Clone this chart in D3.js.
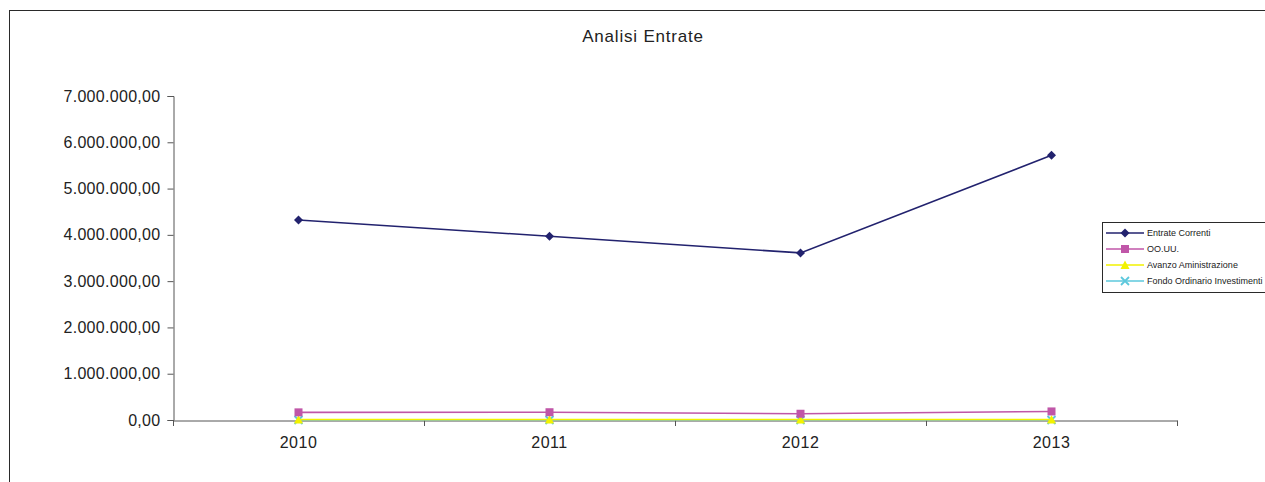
<!DOCTYPE html>
<html><head><meta charset="utf-8">
<script src="https://cdn.jsdelivr.net/npm/d3@7"></script>
<style>body{margin:0;background:#fff;} svg{display:block;font-family:"Liberation Sans",Arial,sans-serif;}</style>
</head><body>
<svg id="c" width="1265" height="482"></svg>
<script>
const years = ["2010","2011","2012","2013"];
const entrateCorrenti = [4320000, 3970000, 3610000, 5720000];
const oouu = [165000, 168000, 135000, 185000];
const avanzoAmministrazione = [12000, 12000, 12000, 12000];
const fondoOrdinarioInvestimenti = [0, 0, 0, 0];
const seriesNames = ["Entrate Correnti","OO.UU.","Avanzo Aministrazione","Fondo Ordinario Investimenti"];
const yTicks = [0,1000000,2000000,3000000,4000000,5000000,6000000,7000000];

const series = [
  {name: seriesNames[0], values: entrateCorrenti, color:"#22226e", marker:"diamond"},
  {name: seriesNames[1], values: oouu, color:"#c056a8", marker:"square"},
  {name: seriesNames[2], values: avanzoAmministrazione, color:"#f2f200", marker:"triangle"},
  {name: seriesNames[3], values: fondoOrdinarioInvestimenti, color:"#5cc8dc", marker:"x"}
];

const svg = d3.select("#c");
svg.append("rect").attr("x",9.5).attr("y",10.5).attr("width",1300).attr("height",500)
  .attr("fill","none").attr("stroke","#2a2a2a").attr("stroke-width",1);

const x = d3.scaleBand().domain(years).range([173,1177]);
const y = d3.scaleLinear().domain([0,7000000]).range([420,96]);
const fmt = v => d3.format(",.2f")(v).replace(/,/g,"#").replace(/\./g,",").replace(/#/g,".");

svg.append("text").attr("x",643).attr("y",42).attr("text-anchor","middle")
  .attr("font-size",17).attr("letter-spacing","0.8").attr("fill","#222").text("Analisi Entrate");

const yAxis = svg.append("g").attr("transform","translate(173.5,0)")
  .call(d3.axisLeft(y).tickValues(yTicks).tickFormat(fmt).tickSize(6).tickPadding(7));
yAxis.select(".domain").attr("stroke","#555");
yAxis.selectAll(".tick line").attr("stroke","#555");
yAxis.selectAll(".tick text").attr("font-size",16).attr("fill","#222").attr("letter-spacing","0.3")
  .attr("font-family","'Liberation Sans',Arial,sans-serif");

const xAxis = svg.append("g").attr("transform","translate(0,420.5)")
  .call(d3.axisBottom(x).tickSize(0).tickPadding(16));
xAxis.select(".domain").attr("stroke","#555");
xAxis.selectAll(".tick text").attr("font-size",16).attr("fill","#222").attr("letter-spacing","0.5")
  .attr("font-family","'Liberation Sans',Arial,sans-serif");
const bounds = years.map(d=>x(d)).concat([x.range()[1]]);
svg.append("g").selectAll("line").data(bounds).join("line")
  .attr("x1",d=>Math.round(d)+0.5).attr("x2",d=>Math.round(d)+0.5)
  .attr("y1",420.5).attr("y2",426).attr("stroke","#555");

const cx = d => x(d) + x.bandwidth()/2;

function drawMarker(g, type, color, px, py){
  if(type==="diamond"){
    g.append("path").attr("d",`M${px},${py-4.5}L${px+4.5},${py}L${px},${py+4.5}L${px-4.5},${py}Z`).attr("fill",color);
  } else if(type==="square"){
    g.append("rect").attr("x",px-4).attr("y",py-4).attr("width",8).attr("height",8).attr("fill",color);
  } else if(type==="triangle"){
    g.append("path").attr("d",`M${px},${py-4.5}L${px+4.5},${py+4}L${px-4.5},${py+4}Z`).attr("fill",color);
  } else {
    g.append("path").attr("d",`M${px-4},${py-4}L${px+4},${py+4}M${px-4},${py+4}L${px+4},${py-4}`)
      .attr("stroke",color).attr("stroke-width",1.8).attr("fill","none");
  }
}

const line = d3.line().x(d=>d[0]).y(d=>d[1]);
[3,2,1,0].forEach(i=>{
  const s = series[i];
  const pts = years.map((yr,j)=>[cx(yr), y(s.values[j])]);
  svg.append("path").attr("d",line(pts)).attr("fill","none").attr("stroke",s.color)
    .attr("stroke-width",1.6).attr("stroke-opacity", i===3?0.7:1);
});
[3,2,1,0].forEach(i=>{
  const s = series[i];
  const g = svg.append("g");
  years.forEach((yr,j)=>drawMarker(g, s.marker, s.color, cx(yr), y(s.values[j])));
});

const lg = svg.append("g");
lg.append("rect").attr("x",1102.5).attr("y",222.5).attr("width",200).attr("height",70)
  .attr("fill","#fff").attr("stroke","#2a2a2a");
series.forEach((s,i)=>{
  const ly = 233 + i*16;
  lg.append("line").attr("x1",1106).attr("x2",1144).attr("y1",ly).attr("y2",ly)
    .attr("stroke",s.color).attr("stroke-width",1.6);
  drawMarker(lg, s.marker, s.color, 1125, ly);
  lg.append("text").attr("x",1147).attr("y",ly+3).attr("font-size",9).attr("letter-spacing","0")
    .attr("fill","#222").text(s.name);
});
</script>
</body></html>
